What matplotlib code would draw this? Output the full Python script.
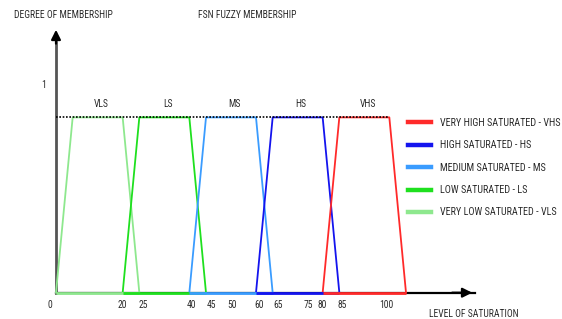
import matplotlib
matplotlib.use("Agg")
import matplotlib.pyplot as plt
from matplotlib.lines import Line2D
from matplotlib.transforms import ScaledTranslation

# ---- data ----
categories = ["VLS", "LS", "MS", "HS", "VHS"]
legend_labels = ["VERY LOW SATURATED - VLS", "LOW SATURATED - LS", "MEDIUM SATURATED - MS",
                 "HIGH SATURATED - HS", "VERY HIGH SATURATED - VHS"]
foot_left = [0, 20, 40, 60, 80]
shoulder_left = [5, 25, 45, 65, 85]
shoulder_right = [20, 40, 60, 80, 100]
foot_right = [25, 45, 65, 85, 105]
peak = 0.84
xtick_values = [0, 20, 25, 40, 45, 50, 60, 65, 75, 80, 85, 100]
xtick_labels = ["0", "20", "25", "40", "45", "50", "60", "65", "75", "80", "85", "100"]
ytick_values = [1]
ytick_labels = ["1"]

colors = ["#8ee88e", "#1fe01f", "#3a9cff", "#1414ee", "#ff2a2a"]
text_color = "#2b2b2b"

plt.rcParams["font.family"] = ["Roboto Condensed", "DejaVu Sans"]
fs = 6.9
fs_leg = 7.3

fig = plt.figure(figsize=(5.62, 3.19), dpi=100)
W, H = 562, 319
ax = fig.add_axes([56 / W, (H - 292.7) / H, 419 / W, (292.7 - 27) / H])
ax.set_xlim(0, 125.7)
ax.set_ylim(0, 1.273)
for s in ax.spines.values():
    s.set_visible(False)

# trapezoids
for i in range(len(categories)):
    xs = [foot_left[i], shoulder_left[i], shoulder_right[i], foot_right[i]]
    ys = [0, peak, peak, 0]
    ax.plot(xs, ys, color=colors[i], lw=1.3, zorder=3, clip_on=False)
    ax.plot([foot_left[i], foot_right[i]], [0, 0], color=colors[i], lw=2.0,
            zorder=4, solid_capstyle="butt", clip_on=False)
    ax.text((shoulder_left[i] + shoulder_right[i]) / 2 + 1, 0.905, categories[i],
            ha="center", va="center", fontsize=fs, color=text_color)

# dotted top line
ax.plot([0, shoulder_right[-1]], [peak, peak], color="black", lw=1.2,
        linestyle=(0, (1, 1)), zorder=5)

# axes arrows
ax.plot([0, 125.7], [0, 0], color="black", lw=1.6, zorder=2, clip_on=False)
ax.annotate("", xy=(125.7, 0), xytext=(118, 0),
            arrowprops=dict(arrowstyle="-|>", color="black", lw=1.6, mutation_scale=14),
            zorder=6, annotation_clip=False)
ax.plot([0, 0], [0, 1.2], color="#555555", lw=2.0, zorder=2, clip_on=False)
ax.annotate("", xy=(0, 1.273), xytext=(0, 1.18),
            arrowprops=dict(arrowstyle="-|>", color="black", lw=1.6, mutation_scale=14),
            zorder=6, annotation_clip=False)

# ticks
ax.set_xticks(xtick_values)
ax.set_xticklabels(xtick_labels, fontsize=fs, color=text_color)
ax.set_yticks(ytick_values)
ax.set_yticklabels(ytick_labels, fontsize=fs, color=text_color)
ax.tick_params(axis="x", length=0, pad=5.0)
ax.tick_params(axis="y", length=0, pad=7)
shifts = {"0": -6, "25": 4, "45": 5, "50": 9, "60": 3, "65": 5, "75": 2, "85": 3, "100": -3, "40": 2}
for lab in ax.get_xticklabels():
    dx = shifts.get(lab.get_text(), 0)
    if dx:
        lab.set_transform(lab.get_transform() + ScaledTranslation(dx / 100, 0, fig.dpi_scale_trans))

# texts
ax.text(-12.6, 1.331, "DEGREE OF MEMBERSHIP", ha="left", va="center", fontsize=fs, color=text_color)
ax.text(57.3, 1.331, "FSN FUZZY MEMBERSHIP", ha="center", va="center", fontsize=fs, color=text_color)
ax.text(111.9, -0.1, "LEVEL OF SATURATION", ha="left", va="center", fontsize=fs, color=text_color)

# legend
handles = [Line2D([0], [0], color=colors[i], lw=3.2) for i in range(len(categories))][::-1]
leg = fig.legend(handles, legend_labels[::-1], loc="upper left",
                 bbox_to_anchor=(408 / W, 1 - 118 / H), frameon=False,
                 fontsize=fs_leg, handlelength=2.3, handletextpad=0.85,
                 labelspacing=1.22, borderpad=0, borderaxespad=0)
for t in leg.get_texts():
    t.set_color(text_color)

fig.savefig("out.png", dpi=100)
